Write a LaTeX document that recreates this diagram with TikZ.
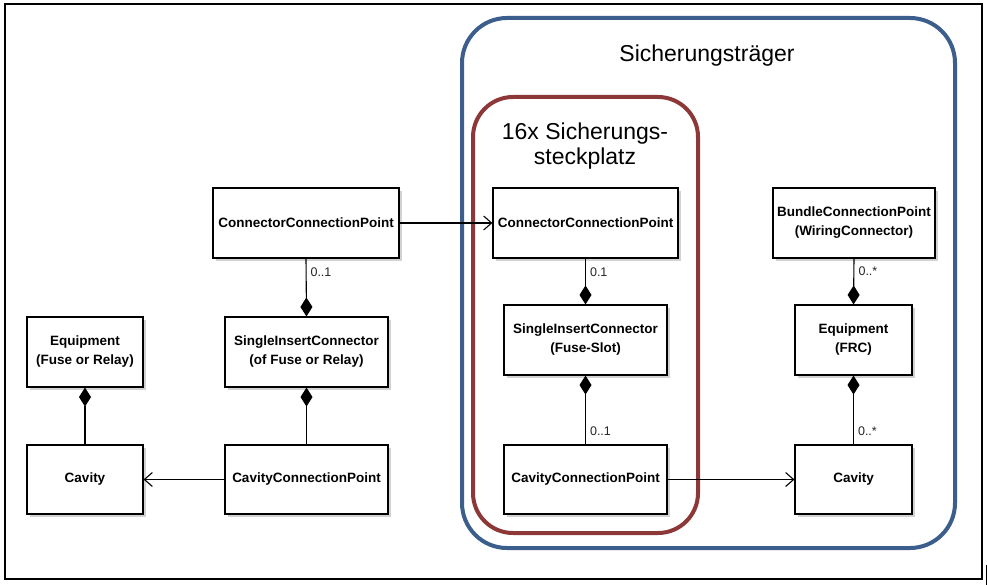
\documentclass[tikz,border=0pt]{standalone}
\usepackage{fontspec}
\setmainfont{Liberation Sans}
\usetikzlibrary{arrows.meta,shadows}
\definecolor{frameblue}{RGB}{59,94,140}
\definecolor{framered}{RGB}{140,56,56}
\definecolor{shadowgray}{RGB}{210,210,210}
\begin{document}
\begin{tikzpicture}[x=1pt,y=-1pt,
  cls/.style={draw=black, line width=1.1pt, fill=white, inner sep=0pt, align=center,
    font=\fontsize{13.5}{19}\selectfont\bfseries,
    drop shadow={shadow xshift=3pt, shadow yshift=-3pt, fill=shadowgray, opacity=1}},
  comp/.style={line width=1.1pt, {Diamond[length=19pt,width=12pt]}-},
  compend/.style={line width=1.1pt, -{Diamond[length=19pt,width=12pt]}},
  nav/.style={line width=1.1pt, -{Straight Barb[length=8pt,width=14pt,line width=1.1pt]}},
  mult/.style={font=\fontsize{12.5}{14}\selectfont, text=black!85, inner sep=0pt, anchor=west},
  title/.style={font=\fontsize{23}{25}\selectfont, align=center, inner sep=0pt}
]
\useasboundingbox (0,0) rectangle (987,585);
\fill[white] (0,0) rectangle (987,585);
% outer frame
\draw[line width=2pt] (5,4) rectangle (982,579);
\draw[line width=1.5pt] (987,565) -- (987,585);
% frames
\draw[frameblue, line width=4pt, rounded corners=45pt] (462,18) rectangle (955,548);
\draw[framered, line width=4pt, rounded corners=40pt] (473,97) rectangle (698,533);
\node[title] (tTraeger) at (707,56) {Sicherungsträger};
\node[title] (tSlot) at (585,146) {16x Sicherungs-\\steckplatz};
% nodes
\node[cls, minimum width=186pt, minimum height=70pt] (ccpL) at (306,223) {ConnectorConnectionPoint};
\node[cls, minimum width=163pt, minimum height=70pt] (sicL) at (306.5,352) {SingleInsertConnector\\(of Fuse or Relay)};
\node[cls, minimum width=116pt, minimum height=70pt] (eqL) at (85,352) {Equipment\\(Fuse or Relay)};
\node[cls, minimum width=116pt, minimum height=69pt] (cavL) at (85,479.5) {Cavity};
\node[cls, minimum width=163pt, minimum height=69pt] (cavcpL) at (306.5,479.5) {CavityConnectionPoint};
\node[cls, minimum width=185pt, minimum height=70pt] (ccpM) at (585.5,223) {ConnectorConnectionPoint};
\node[cls, minimum width=163pt, minimum height=70pt] (sicM) at (585.5,340) {SingleInsertConnector\\(Fuse-Slot)};
\node[cls, minimum width=163pt, minimum height=69pt] (cavcpM) at (585.5,479.5) {CavityConnectionPoint};
\node[cls, minimum width=162pt, minimum height=70pt] (bcp) at (854,223) {BundleConnectionPoint\\(WiringConnector)};
\node[cls, minimum width=117pt, minimum height=70pt] (eqR) at (853.5,340) {Equipment\\(FRC)};
\node[cls, minimum width=117pt, minimum height=69pt] (cavR) at (853.5,479.5) {Cavity};
% connectors
\draw[nav] (ccpL.east) -- (ccpM.west);
\draw[nav] (cavcpL.west) -- (cavL.east);
\draw[nav] (cavcpM.east) -- (cavR.west);
\draw[compend] (ccpL.south) -- node[mult, at start, xshift=4pt, yshift=-14pt] {0..1} (sicL.north);
\draw[comp] (sicL.south) -- (cavcpL.north);
\draw[comp] (eqL.south) -- (cavL.north);
\draw[compend] (ccpM.south) -- node[mult, at start, xshift=4pt, yshift=-14pt] {0.1} (sicM.north);
\draw[comp] (sicM.south) -- node[mult, at end, xshift=4pt, yshift=13pt] {0..1} (cavcpM.north);
\draw[compend] (bcp.south) -- node[mult, at start, xshift=4pt, yshift=-13pt] {0..*} (eqR.north);
\draw[comp] (eqR.south) -- node[mult, at end, xshift=4pt, yshift=13pt] {0..*} (cavR.north);
\end{tikzpicture}
\end{document}
